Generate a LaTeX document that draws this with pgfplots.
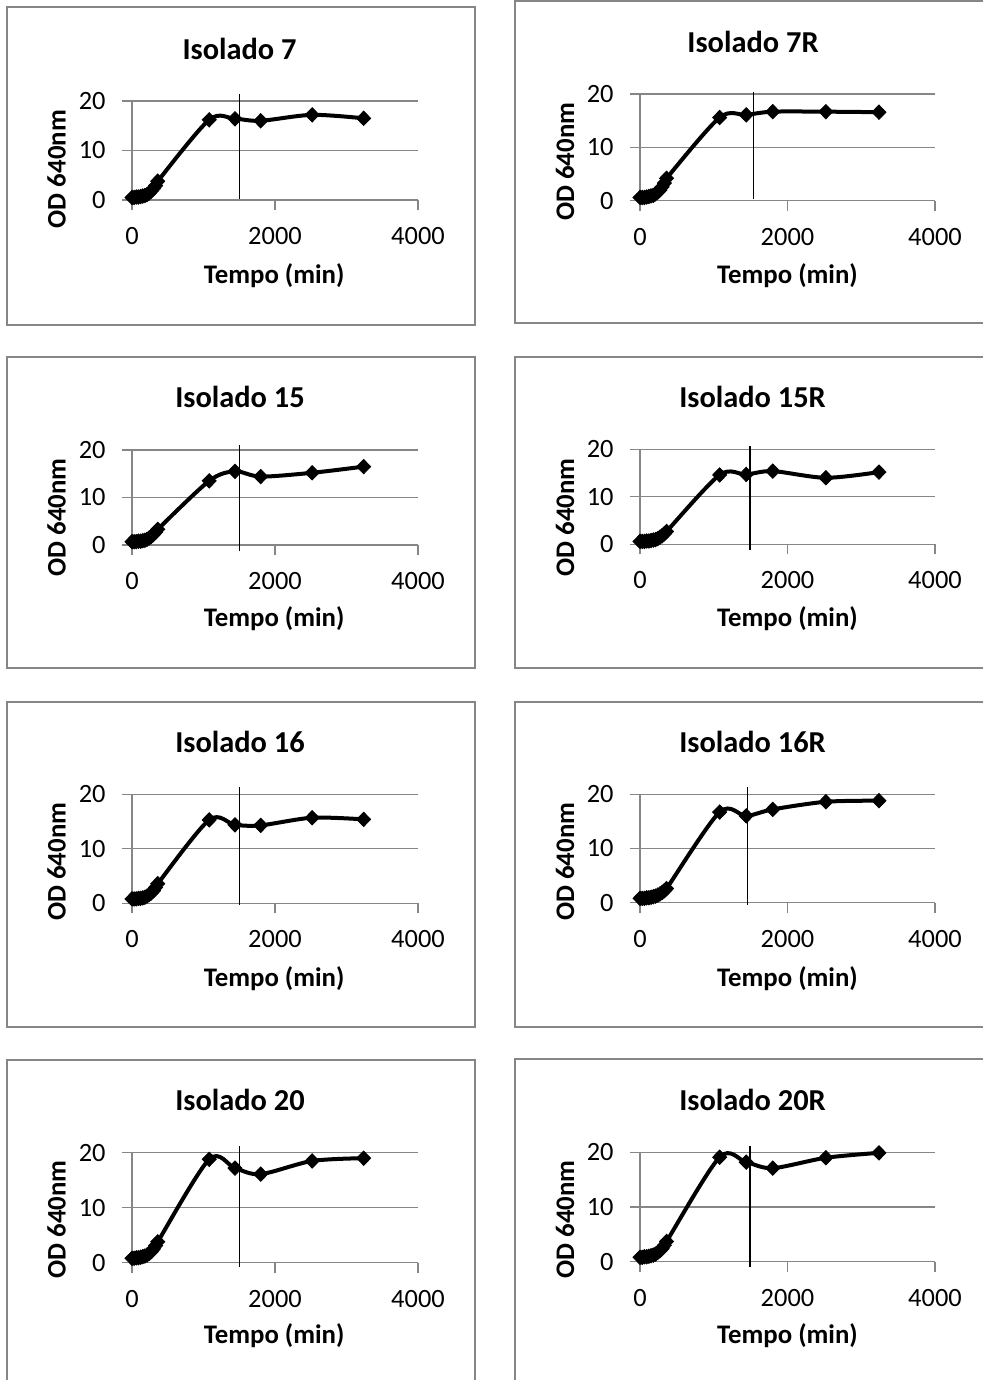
\documentclass[border=0pt]{standalone}
\usepackage{fontspec}
\setmainfont{Carlito}
\usepackage{pgfplots}
\pgfplotsset{compat=1.18}
\definecolor{edge}{HTML}{868686}

% 1 px of the reference = 0.5pt
\newcommand{\pp}[2]{({(#1)*0.5pt},{(1380-(#2))*0.5pt})}

\pgfplotsset{
  panel/.style={
    scale only axis, clip=false, anchor=south west,
    xmin=0, xmax=4000, ymin=0, ymax=20,
    xtick={0,2000,4000}, ytick={0,10,20},
    axis x line*=bottom, axis y line*=left,
    axis line style={edge, line width=0.6pt},
    tick style={edge, line width=0.6pt},
    major tick length=5pt, tick align=outside,
    ymajorgrids, grid style={edge, line width=0.6pt},
    scaled ticks=false,
    /pgf/number format/1000 sep={},
    /pgf/number format/assume math mode=true,
    ticklabel style={font=\fontsize{13.2}{15}\selectfont},
    xticklabel style={inner sep=0pt, yshift=-8.5pt},
    yticklabel style={inner sep=0pt, xshift=-8pt},
  },
  curve/.style={black, line width=2pt, smooth, mark=diamond*, mark size=3.6pt,
    mark options={xscale=1.3, line width=0.4pt, fill=black}},
}
\newcommand{\cutline}[3]{\draw[black, line width=0.65pt] (axis cs:#1,#2) -- (axis cs:#1,#3);}

\begin{document}
\begin{tikzpicture}
\useasboundingbox (0,0) rectangle (491pt,690pt);

% frames
\draw[edge, line width=0.75pt] \pp{7}{7} rectangle \pp{475}{325};
\draw[edge, line width=0.75pt] \pp{515}{1} rectangle \pp{990}{323};
\draw[edge, line width=0.75pt] \pp{7}{357} rectangle \pp{475}{668};
\draw[edge, line width=0.75pt] \pp{515}{357} rectangle \pp{990}{668};
\draw[edge, line width=0.75pt] \pp{7}{702} rectangle \pp{475}{1027};
\draw[edge, line width=0.75pt] \pp{515}{702} rectangle \pp{990}{1027};
\draw[edge, line width=0.75pt] \pp{7}{1060} rectangle \pp{475}{1400};
\draw[edge, line width=0.75pt] \pp{515}{1059} rectangle \pp{990}{1400};

% Isolado 7
\begin{axis}[panel, at={(66pt,590pt)}, width=143pt, height=49.5pt]
\addplot[curve] coordinates {
  (0,0.5) (30,0.5) (60,0.6) (90,0.6) (120,0.7) (150,0.8) (180,0.9) (210,1.1)
  (240,1.4) (270,1.8) (300,2.3) (330,2.9) (360,3.8)
  (1080,16.2) (1440,16.4) (1800,16.0) (2520,17.2) (3240,16.5) };
\cutline{1500}{0.2}{21.35}
\end{axis}
% Isolado 7R
\begin{axis}[panel, at={(320pt,589.65pt)}, width=147.5pt, height=53.3pt]
\addplot[curve] coordinates {
  (0,0.6) (30,0.6) (60,0.6) (90,0.7) (120,0.8) (150,0.9) (180,1.0) (210,1.3)
  (240,1.6) (270,2.0) (300,2.6) (330,3.3) (360,4.2)
  (1080,15.6) (1440,16.1) (1800,16.7) (2520,16.7) (3240,16.6) };
\cutline{1536}{0.3}{20.4}
\end{axis}
% Isolado 15
\begin{axis}[panel, at={(66pt,417.5pt)}, width=143pt, height=47.5pt]
\addplot[curve] coordinates {
  (0,0.7) (30,0.7) (60,0.7) (90,0.8) (120,0.8) (150,0.9) (180,1.0) (210,1.2)
  (240,1.5) (270,1.8) (300,2.2) (330,2.7) (360,3.3)
  (1080,13.5) (1440,15.5) (1800,14.4) (2520,15.2) (3240,16.5) };
\cutline{1500}{-1.2}{21.05}
\end{axis}
% Isolado 15R
\begin{axis}[panel, at={(320pt,417.85pt)}, width=147.5pt, height=47.5pt]
\addplot[curve] coordinates {
  (0,0.6) (30,0.6) (60,0.6) (90,0.7) (120,0.7) (150,0.8) (180,0.9) (210,1.0)
  (240,1.2) (270,1.5) (300,1.8) (330,2.2) (360,2.7)
  (1080,14.6) (1440,14.7) (1800,15.4) (2520,14.0) (3240,15.2) };
\cutline{1492}{-1.3}{20.7}
\end{axis}
% Isolado 16
\begin{axis}[panel, at={(66pt,238.35pt)}, width=143pt, height=54.5pt]
\addplot[curve] coordinates {
  (0,0.8) (30,0.8) (60,0.8) (90,0.9) (120,0.9) (150,1.0) (180,1.1) (210,1.3)
  (240,1.6) (270,1.9) (300,2.3) (330,2.9) (360,3.6)
  (1080,15.3) (1440,14.4) (1800,14.3) (2520,15.7) (3240,15.4) };
\cutline{1500}{-0.3}{21.4}
\end{axis}
% Isolado 16R
\begin{axis}[panel, at={(320pt,238.65pt)}, width=147.5pt, height=54.25pt]
\addplot[curve] coordinates {
  (0,0.8) (30,0.8) (60,0.8) (90,0.9) (120,0.9) (150,1.0) (180,1.1) (210,1.2)
  (240,1.4) (270,1.6) (300,1.9) (330,2.2) (360,2.6)
  (1080,16.7) (1440,16.0) (1800,17.2) (2520,18.6) (3240,18.8) };
\cutline{1460}{-0.4}{21.4}
\end{axis}
% Isolado 20
\begin{axis}[panel, at={(66pt,58.65pt)}, width=143pt, height=55pt]
\addplot[curve] coordinates {
  (0,0.8) (30,0.8) (60,0.9) (90,0.9) (120,1.0) (150,1.1) (180,1.2) (210,1.4)
  (240,1.7) (270,2.0) (300,2.5) (330,3.1) (360,3.8)
  (1080,18.8) (1440,17.2) (1800,16.1) (2520,18.5) (3240,19.0) };
\cutline{1500}{-0.7}{21.2}
\end{axis}
% Isolado 20R
\begin{axis}[panel, at={(320pt,59.15pt)}, width=147.5pt, height=54.7pt]
\addplot[curve] coordinates {
  (0,0.8) (30,0.8) (60,0.9) (90,0.9) (120,1.0) (150,1.1) (180,1.2) (210,1.4)
  (240,1.7) (270,2.0) (300,2.4) (330,3.0) (360,3.7)
  (1080,19.1) (1440,18.2) (1800,17.1) (2520,19.0) (3240,19.9) };
\cutline{1492}{-0.9}{21.2}
\end{axis}

% titles
\tikzset{ttl/.style={anchor=base, inner sep=0pt, font=\fontsize{15.2}{17}\selectfont\bfseries},
         lbl/.style={anchor=base, inner sep=0pt, font=\fontsize{13.4}{15}\selectfont\bfseries}}
\node[ttl] at \pp{239.5}{60} {Isolado 7};
\node[ttl] at \pp{753}{52.3} {Isolado 7R};
\node[ttl] at \pp{240}{408} {Isolado 15};
\node[ttl] at \pp{752.5}{408} {Isolado 15R};
\node[ttl] at \pp{240}{752.7} {Isolado 16};
\node[ttl] at \pp{752.5}{752.7} {Isolado 16R};
\node[ttl] at \pp{240}{1110.7} {Isolado 20};
\node[ttl] at \pp{752.5}{1110.7} {Isolado 20R};

% x labels
\node[lbl] at \pp{274.2}{283.3} {Tempo (min)};
\node[lbl] at \pp{787.5}{283.3} {Tempo (min)};
\node[lbl] at \pp{274.2}{626.7} {Tempo (min)};
\node[lbl] at \pp{787.5}{626.7} {Tempo (min)};
\node[lbl] at \pp{274.2}{986.7} {Tempo (min)};
\node[lbl] at \pp{787.5}{986.7} {Tempo (min)};
\node[lbl] at \pp{274.2}{1344} {Tempo (min)};
\node[lbl] at \pp{787.5}{1344} {Tempo (min)};

% y labels
\node[lbl, rotate=90] at \pp{65.7}{169.2} {OD 640nm};
\node[lbl, rotate=90] at \pp{574}{161.7} {OD 640nm};
\node[lbl, rotate=90] at \pp{65.7}{517.5} {OD 640nm};
\node[lbl, rotate=90] at \pp{574}{517.5} {OD 640nm};
\node[lbl, rotate=90] at \pp{65.7}{861.7} {OD 640nm};
\node[lbl, rotate=90] at \pp{574}{861.7} {OD 640nm};
\node[lbl, rotate=90] at \pp{65.7}{1219.5} {OD 640nm};
\node[lbl, rotate=90] at \pp{574}{1219.5} {OD 640nm};
\end{tikzpicture}
\end{document}
